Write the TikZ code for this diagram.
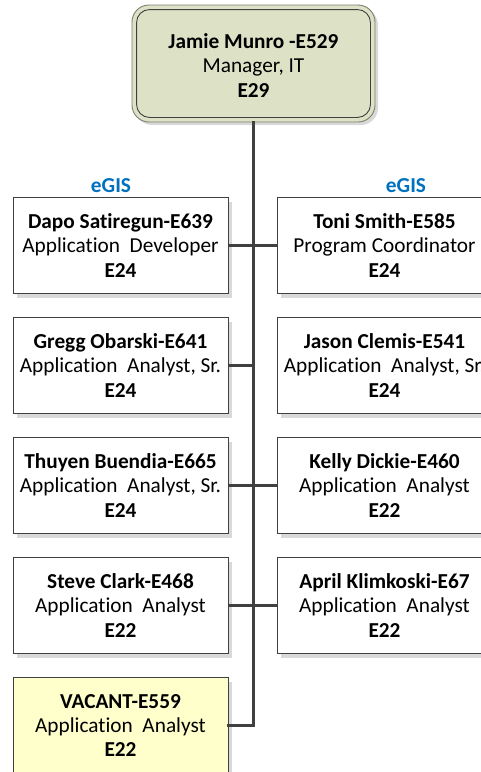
\documentclass[tikz,border=0pt]{standalone}
\usepackage{fontspec}
\setmainfont[Ligatures=NoCommon]{Carlito}
\usetikzlibrary{shadows}

\definecolor{linegray}{HTML}{404040}
\definecolor{mgrfill}{HTML}{DDE2C7}
\definecolor{mgrouter}{HTML}{7E7E6E}
\definecolor{vacantfill}{HTML}{FFFFCC}
\definecolor{unitblue}{HTML}{0070C0}
\definecolor{shadowgray}{HTML}{D9D9D9}

\newcommand{\boxfont}{\fontsize{21.3}{24.3}\selectfont}

\tikzset{
  orgbox/.style={draw=linegray, line width=0.9pt, fill=white,
    minimum width=215pt, minimum height=96pt, inner sep=0pt,
    align=center, font=\boxfont,
    drop shadow={shadow xshift=4pt, shadow yshift=-4pt, fill=shadowgray, opacity=1}},
  vacant/.style={orgbox, fill=vacantfill},
  link/.style={draw=linegray, line width=2.6pt},
  unit/.style={text=unitblue, font=\boxfont\bfseries}
}

\begin{document}
\begin{tikzpicture}[x=1pt, y=-1pt]
  \useasboundingbox (0,0) rectangle (481,772);

  % manager box with double rounded border
  \node[draw=mgrouter, line width=0.9pt, fill=mgrfill, rounded corners=17pt,
        minimum width=243pt, minimum height=117pt, inner sep=0pt,
        drop shadow={shadow xshift=3pt, shadow yshift=-3pt, fill=shadowgray, opacity=1}]
        (mgr) at (253.5,63.5) {};
  \draw[draw=linegray, line width=0.9pt, rounded corners=13pt]
        ([xshift=5pt,yshift=5pt]mgr.south west) rectangle ([xshift=-5pt,yshift=-5pt]mgr.north east);
  \node[align=center, font=\boxfont] (mgrtext) at ([yshift=-2pt]mgr.center)
        {\textbf{Jamie Munro -E529}\\Manager, IT\\\textbf{E29}};

  % unit labels
  \node[unit] (unitL) at (111,186) {eGIS};
  \node[unit] (unitR) at (406,186) {eGIS};

  % left column
  \node[orgbox] (l1) at (120.5,245.5) {\textbf{Dapo Satiregun-E639}\\Application~~Developer\\\textbf{E24}};
  \node[orgbox] (l2) at (120.5,365.5) {\textbf{Gregg Obarski-E641}\\Application~~Analyst, Sr.\\\textbf{E24}};
  \node[orgbox] (l3) at (120.5,485.5) {\textbf{Thuyen Buendia-E665}\\Application~~Analyst, Sr.\\\textbf{E24}};
  \node[orgbox] (l4) at (120.5,605.5) {\textbf{Steve Clark-E468}\\Application~~Analyst\\\textbf{E22}};
  \node[vacant] (l5) at (120.5,725.5) {\textbf{VACANT-E559}\\Application~~Analyst\\\textbf{E22}};

  % right column
  \node[orgbox] (r1) at (384.5,245.5) {\textbf{Toni Smith-E585}\\Program Coordinator\\\textbf{E24}};
  \node[orgbox] (r2) at (384.5,365.5) {\textbf{Jason Clemis-E541}\\Application~~Analyst, Sr.\\\textbf{E24}};
  \node[orgbox] (r3) at (384.5,485.5) {\textbf{Kelly Dickie-E460}\\Application~~Analyst\\\textbf{E22}};
  \node[orgbox] (r4) at (384.5,605.5) {\textbf{April Klimkoski-E67}\\Application~~Analyst\\\textbf{E22}};

  % trunk and branches
  \coordinate (trunkend) at (253.5,725.5);
  \draw[link, line cap=rect] (mgr.south -| trunkend) -- (trunkend) -- (l5.east);
  \draw[link] (l1.east) -- (r1.west);
  \draw[link] (l2.east) -- (l2.east -| trunkend);
  \draw[link] (l3.east) -- (r3.west);
  \draw[link] (l4.east) -- (r4.west);
\end{tikzpicture}
\end{document}
